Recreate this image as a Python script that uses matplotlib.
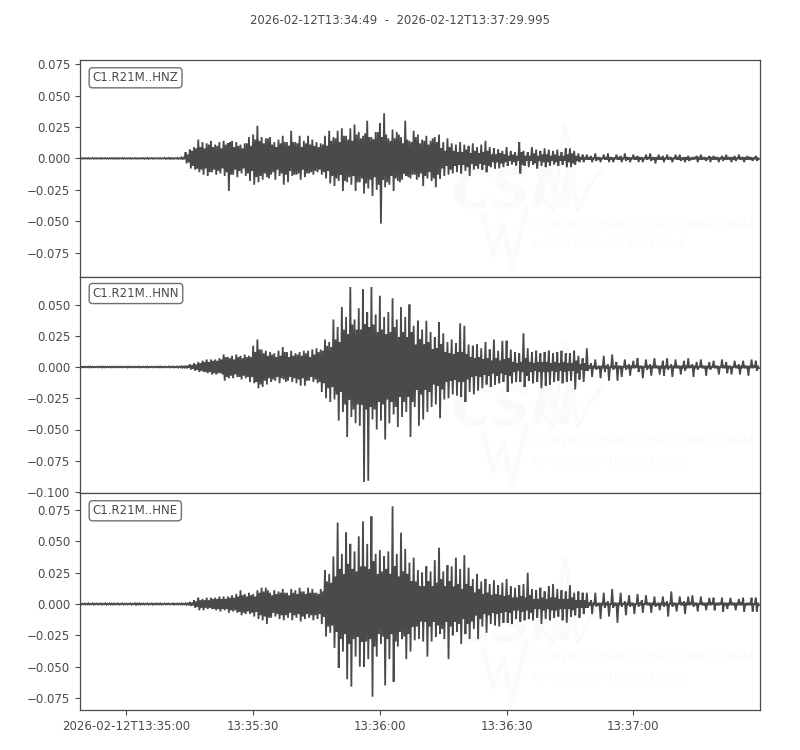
import numpy as np
import matplotlib
matplotlib.use("Agg")
import matplotlib.pyplot as plt

##########################################
# data, amplitudes in units of 0.001, read per second
# hi / lo are the big swings, inner is the smaller swing between them
hnz_hi = [.3, .2, .3, .3, .2, .3, .3, .2, .3, .3,
          .3, .2, .3, .3, .2, .3, .4, .3, .2, .3,
          .4, .4, .3, .4, .8, 5, 7, 9, 15, 13,
          12, 14, 11, 13, 14, 12, 14, 13, 11, 12,
          17, 19, 26, 17, 16, 17, 13, 15, 18, 13,
          22, 13, 18, 14, 18, 15, 13, 12, 18, 22,
          17, 22, 24, 18, 24, 27, 21, 18, 30, 17,
          21, 28, 36, 16, 23, 21, 17, 30, 14, 22,
          19, 15, 18, 14, 17, 19, 13, 16, 12, 11,
          13, 11, 10, 12, 9, 11, 14, 9, 8, 7,
          6, 9, 6, 5, 13, 6, 5, 9, 7, 6,
          8, 7, 6, 7, 5, 8, 8, 6, 4, 3,
          3, 2, 4, 1, 3, 4, 1, 3, 2, 4,
          1, 3, 2, 1, 3, 4, 1, 3, 2, 3,
          1, 3, 3, 1, 2, 1, 2, 3, 1, 2,
          2, 1, 2, 3, 1, 2, 3, 1, 2, 1,
          2]
hnz_lo = [-.3, -.2, -.3, -.3, -.2, -.3, -.3, -.2, -.3, -.3,
          -.3, -.2, -.3, -.3, -.2, -.3, -.4, -.3, -.2, -.3,
          -.4, -.4, -.3, -.4, -.8, -4, -8, -9, -11, -13,
          -14, -11, -13, -12, -14, -26, -13, -15, -12, -14,
          -18, -21, -19, -17, -15, -13, -17, -14, -21, -19,
          -14, -13, -17, -15, -12, -13, -11, -13, -16, -20,
          -22, -18, -26, -19, -21, -26, -19, -28, -24, -30,
          -25, -52, -23, -21, -26, -18, -17, -14, -16, -13,
          -15, -22, -16, -18, -23, -16, -14, -13, -12, -11,
          -12, -10, -14, -9, -8, -9, -11, -7, -8, -8,
          -7, -6, -5, -6, -12, -6, -7, -5, -8, -6,
          -7, -6, -5, -6, -5, -7, -7, -5, -3, -3,
          -1, -3, -2, -3, -1, -3, -3, -1, -3, -2,
          -3, -1, -3, -3, -1, -2, -4, -1, -3, -1,
          -3, -1, -2, -3, -2, -1, -3, -1, -2, -3,
          -1, -3, -2, -1, -3, -2, -1, -3, -1, -2,
          -2]
hnz_inner = [.2, .2, .1, .2, .2, .1, .2, .2, .2, .1,
             .2, .2, .1, .2, .2, .2, .1, .2, .2, .1,
             .2, .3, .2, .2, .5, 3, 6, 8, 9, 8,
             11, 9, 10, 8, 11, 13, 9, 10, 8, 12,
             10, 15, 14, 12, 16, 11, 9, 12, 13, 10,
             13, 12, 9, 12, 11, 10, 9, 11, 10, 14,
             16, 13, 18, 15, 14, 19, 16, 20, 17, 15,
             21, 17, 19, 14, 16, 19, 12, 15, 13, 17,
             12, 14, 11, 16, 13, 8, 6, 9, 6, 5,
             5, 7, 4, 6, 4, 5, 6, 3, 3, 4,
             3, 2, 3, 2, 5, 2, 2, 4, 2, 3,
             3, 2, 3, 2, 2, 3, 4, 2, 1, 1,
             1, .5, 1, .5, 1, 1, .5, 1, .5, 1,
             .5, 1, 1, .5, .5, 1, 1, 1, .5, .5,
             .5, 1, .5, 1, .5, .5, 1, .5, .5, 1,
             .5, .5, 1, .5, 1, .5, .5, 1, .5, .5,
             .5]

hnn_hi = [.4, .3, .4, .3, .3, .4, .3, .4, .3, .3,
          .3, .4, .3, .3, .4, .3, .4, .3, .3, .4,
          .3, .4, .4, .5, .6, 1, 2, 3, 4, 5,
          6, 6, 6, 7, 10, 8, 9, 10, 9, 10,
          9, 17, 22, 14, 13, 12, 11, 13, 16, 12,
          13, 11, 12, 13, 13, 14, 15, 14, 22, 20,
          38, 32, 48, 40, 64, 38, 47, 62, 44, 64,
          42, 57, 40, 44, 55, 38, 48, 40, 50, 33,
          37, 30, 37, 28, 24, 36, 27, 20, 22, 19,
          35, 33, 18, 17, 18, 15, 20, 14, 22, 13,
          21, 21, 14, 12, 11, 27, 15, 12, 13, 11,
          12, 13, 11, 12, 13, 11, 11, 13, 9, 7,
          15, 3, 6, 1, 9, 2, 10, 4, 1, 6,
          2, 5, 7, 1, 6, 2, 7, 1, 5, 7,
          2, 6, 1, 5, 7, 2, 4, 6, 1, 4,
          5, 1, 6, 4, 1, 5, 2, 5, 1, 6,
          5]
hnn_lo = [-.4, -.3, -.4, -.3, -.3, -.4, -.3, -.4, -.3, -.3,
          -.3, -.4, -.3, -.3, -.4, -.3, -.4, -.3, -.3, -.4,
          -.3, -.4, -.4, -.5, -.6, -1, -2, -3, -4, -4,
          -5, -6, -6, -5, -11, -9, -9, -8, -10, -9,
          -12, -13, -17, -16, -14, -12, -11, -13, -10, -11,
          -12, -13, -15, -15, -11, -12, -13, -20, -25, -28,
          -26, -43, -36, -56, -40, -45, -47, -92, -91, -42,
          -50, -43, -58, -45, -38, -48, -40, -36, -56, -32,
          -47, -42, -36, -32, -30, -41, -26, -25, -22, -23,
          -24, -28, -20, -22, -19, -17, -14, -16, -14, -13,
          -12, -20, -13, -12, -12, -16, -11, -13, -12, -17,
          -15, -14, -12, -11, -13, -12, -11, -18, -10, -12,
          -3, -8, -2, -9, -4, -11, -2, -11, -8, -2,
          -7, -1, -4, -9, -2, -7, -1, -6, -7, -2,
          -8, -1, -6, -3, -1, -8, -2, -1, -7, -2,
          -1, -6, -1, -5, -6, -1, -6, -1, -7, -1,
          -3]
hnn_inner = [.2, .2, .3, .2, .2, .3, .2, .2, .2, .3,
             .2, .3, .2, .2, .2, .3, .2, .2, .3, .2,
             .2, .3, .2, .3, .4, .5, 1.5, 2, 3, 4,
             4, 5, 5, 6, 8, 7, 6, 8, 7, 8,
             8, 12, 14, 11, 9, 10, 8, 9, 12, 8,
             9, 10, 9, 11, 8, 10, 12, 13, 17, 16,
             22, 20, 30, 26, 34, 30, 30, 34, 32, 34,
             28, 30, 26, 28, 32, 24, 28, 24, 28, 18,
             22, 18, 20, 14, 15, 18, 12, 11, 10, 12,
             12, 10, 8, 7, 8, 6, 7, 5, 7, 5,
             6, 7, 4, 3, 4, 7, 4, 3, 4, 4,
             4, 3, 4, 3, 4, 3, 3, 5, 2, 3,
             1, 1, .5, 1, 1, .5, 1, 1, .5, 1,
             1, .5, 1, .5, 1, 1, .5, 1, 1, .5,
             1, .5, 1, 1, .5, 1, .5, 1, 1, .5,
             1, .5, 1, 1, .5, 1, 1, .5, 1, .5,
             1]

hne_hi = [.5, .4, .5, .5, .4, .5, .6, .5, .4, .5,
          .5, .4, .5, .6, .5, .4, .5, .5, .4, .5,
          .4, .4, .5, .4, .5, .6, 1.5, 3, 5, 4,
          5, 5, 5, 6, 6, 6, 7, 8, 11, 8,
          9, 8, 11, 13, 13, 9, 11, 10, 12, 9,
          12, 11, 13, 10, 13, 12, 9, 12, 27, 24,
          38, 65, 40, 57, 48, 42, 54, 66, 48, 70,
          40, 43, 38, 42, 78, 40, 57, 44, 33, 37,
          27, 25, 30, 26, 35, 45, 26, 31, 30, 37,
          28, 39, 29, 20, 24, 18, 20, 16, 19, 15,
          17, 20, 14, 13, 15, 16, 25, 12, 11, 13,
          10, 14, 16, 12, 11, 10, 15, 9, 10, 9,
          9, 3, 9, 1, 9, 2, 12, 1, 9, 2,
          7, 1, 8, 3, 7, 1, 6, 1, 6, 2,
          10, 1, 6, 2, 6, 7, 1, 6, 1, 5,
          5, 1, 5, 1, 5, 1, 4, 5, 1, 5,
          5]
hne_lo = [-.5, -.4, -.5, -.5, -.4, -.5, -.6, -.5, -.4, -.5,
          -.5, -.4, -.5, -.6, -.5, -.4, -.5, -.5, -.4, -.5,
          -.4, -.4, -.5, -.4, -.5, -.6, -1.5, -3, -5, -5,
          -4, -4, -5, -6, -5, -7, -6, -7, -9, -8,
          -8, -10, -12, -13, -16, -11, -10, -12, -13, -11,
          -13, -11, -14, -12, -11, -13, -12, -16, -26, -23,
          -35, -51, -38, -60, -66, -42, -50, -50, -44, -74,
          -42, -32, -65, -44, -62, -34, -28, -44, -38, -29,
          -28, -30, -42, -30, -26, -24, -28, -44, -25, -22,
          -32, -24, -28, -20, -28, -18, -23, -16, -17, -18,
          -15, -15, -16, -12, -14, -13, -12, -13, -11, -16,
          -12, -13, -11, -10, -13, -15, -10, -9, -11, -8,
          -3, -8, -2, -12, -3, -10, -3, -15, -2, -9,
          -2, -8, -2, -7, -1, -7, -2, -5, -2, -10,
          -2, -6, -1, -8, -1, -2, -6, -1, -5, -1,
          -5, -1, -6, -4, -1, -5, -1, -6, -1, -6,
          -6]
hne_inner = [.3, .3, .2, .3, .3, .2, .3, .4, .3, .2,
             .3, .3, .2, .4, .3, .3, .2, .3, .3, .2,
             .3, .2, .3, .3, .3, .4, 1, 2, 3, 3,
             3, 4, 4, 4, 4, 5, 5, 6, 7, 6,
             7, 6, 9, 10, 11, 7, 8, 9, 9, 7,
             9, 8, 10, 8, 9, 9, 8, 10, 18, 17,
             22, 28, 24, 32, 28, 26, 30, 30, 28, 34,
             24, 26, 28, 24, 30, 22, 26, 24, 18, 18,
             14, 14, 18, 14, 17, 20, 14, 18, 14, 16,
             12, 16, 14, 9, 12, 8, 9, 7, 8, 7,
             6, 7, 5, 5, 6, 5, 7, 4, 4, 5,
             4, 5, 5, 4, 4, 4, 5, 3, 3, 3,
             1, 1, .5, 1, 1, .5, 1, 1, .5, 1,
             1, .5, 1, .5, 1, 1, .5, 1, 1, .5,
             1, .5, 1, 1, .5, 1, .5, 1, 1, .5,
             1, .5, 1, 1, .5, 1, 1, .5, 1, .5,
             1]

channels = ["C1.R21M..HNZ", "C1.R21M..HNN", "C1.R21M..HNE"]
hi_vals = [hnz_hi, hnn_hi, hne_hi]
lo_vals = [hnz_lo, hnn_lo, hne_lo]
inner_vals = [hnz_inner, hnn_inner, hne_inner]
ylims = [(-0.0945, 0.0784), (-0.1008, 0.072), (-0.0846, 0.0886)]
yticks = [[-0.075, -0.05, -0.025, 0, 0.025, 0.05, 0.075],
          [-0.1, -0.075, -0.05, -0.025, 0, 0.025, 0.05],
          [-0.075, -0.05, -0.025, 0, 0.025, 0.05, 0.075]]

# seconds after 13:34:49
xtick_pos = [11, 41, 71, 101, 131]
xtick_labels = ["2026-02-12T13:35:00", "13:35:30", "13:36:00", "13:36:30", "13:37:00"]

##########################################
ink = "#4a4a4a"
soft = "#fafafa"
plt.rcParams["font.family"] = "DejaVu Sans"

W, H = 800, 750
fig = plt.figure(figsize=(W / 100, H / 100), dpi=100)
edges = [60, 277, 493, 710]


def watermark(ax, top):
    # faint logo, given in figure pixels
    def fx(x):
        return x / W

    def fy(y):
        return 1 - (top + y) / H

    tr = fig.transFigure
    ax.text(fx(452), fy(147), "CSN", fontsize=40, fontweight="bold", style="italic",
            color=soft, zorder=1, transform=tr)
    ax.text(fx(533), fy(168), "CENTRO SISMOLÓGICO NACIONAL", fontsize=9.4, style="italic",
            color=soft, zorder=1, transform=tr)
    ax.text(fx(533), fy(188), "UNIVERSIDAD DE CHILE", fontsize=9.4, style="italic",
            color=soft, zorder=1, transform=tr)
    ax.plot([fx(540), fx(553), fx(565), fx(578), fx(590), fx(602)],
            [fy(135), fy(150), fy(65), fy(150), fy(125), fy(110)],
            color=soft, lw=2.5, zorder=1, transform=tr)
    ax.plot([fx(483), fx(493), fx(503), fx(512), fx(527)],
            [fy(155), fy(195), fy(165), fy(207), fy(147)],
            color=soft, lw=3, zorder=1, transform=tr)


for i in range(3):
    top, bottom = edges[i], edges[i + 1]
    ax = fig.add_axes([80 / W, 1 - bottom / H, 680 / W, (bottom - top) / H])
    watermark(ax, top)

    hi = np.array(hi_vals[i], dtype=float) / 1000
    lo = np.array(lo_vals[i], dtype=float) / 1000
    inner = np.array(inner_vals[i], dtype=float) / 1000
    sec = np.arange(len(hi))
    # four turns per second: big swing up and down, then the smaller one
    x = np.column_stack([sec, sec + 0.25, sec + 0.5, sec + 0.75]).ravel()
    y = np.column_stack([hi, lo, inner, -inner]).ravel()
    ax.plot(x, y, color=ink, lw=1.3, solid_joinstyle="miter", zorder=3)

    ax.set_xlim(0, 160.995)
    ax.set_ylim(*ylims[i])
    ax.set_yticks(yticks[i])
    ax.set_yticklabels(["%.3f" % v if v >= 0 else "\u2212%.3f" % -v for v in yticks[i]])
    ax.set_xticks(xtick_pos)
    ax.tick_params(colors=ink, labelsize=8.5, length=3.5, width=0.8)
    if i == 2:
        ax.set_xticklabels(xtick_labels)
    else:
        ax.tick_params(axis="x", length=0, labelbottom=False)
    for side in ax.spines.values():
        side.set_color(ink)
        side.set_linewidth(0.9)

    ax.text(0.0187, 0.918 if i != 1 else 0.9235, channels[i], transform=ax.transAxes,
            fontsize=8.5, color=ink, va="center", ha="left", zorder=5,
            bbox=dict(boxstyle="round,pad=0.3", fc="white", ec="#707070", lw=1.0))

fig.text(0.5, 1 - 20.5 / H, "2026-02-12T13:34:49  -  2026-02-12T13:37:29.995",
         ha="center", va="center", fontsize=8.4, color=ink)

fig.savefig("out.png", dpi=100)
